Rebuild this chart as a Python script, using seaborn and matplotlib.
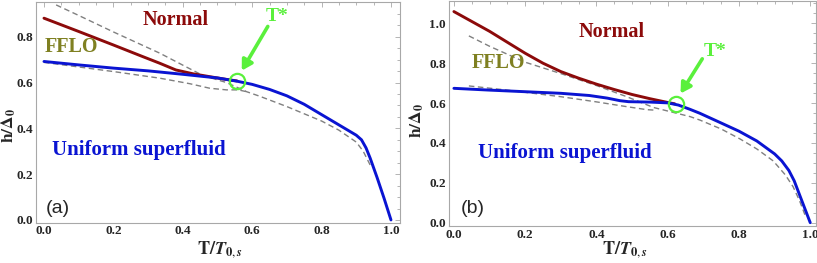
import numpy as np
import matplotlib
matplotlib.use("Agg")
import matplotlib.pyplot as plt
from matplotlib.ticker import MultipleLocator, FormatStrFormatter
import seaborn as sns

# ---------------- data: panel (a) ----------------
a_blue_x = [0.0, 0.1, 0.2, 0.3, 0.4, 0.5, 0.556, 0.6, 0.65, 0.7, 0.75, 0.8, 0.85, 0.9, 0.915, 0.928, 0.94, 0.96, 0.98, 1.0]
a_blue_y = [0.692, 0.677, 0.663, 0.651, 0.636, 0.620, 0.606, 0.592, 0.570, 0.542, 0.505, 0.460, 0.415, 0.370, 0.350, 0.315, 0.270, 0.185, 0.095, 0.0]

a_red_x = [0.0, 0.1, 0.2, 0.28, 0.334, 0.38, 0.43, 0.48, 0.52, 0.556]
a_red_y = [0.881, 0.823, 0.764, 0.716, 0.684, 0.655, 0.638, 0.625, 0.615, 0.607]

a_dash1_x = [0.035, 0.1, 0.2, 0.334, 0.40, 0.459, 0.526, 0.584, 0.622, 0.7, 0.8, 0.85, 0.9, 0.92, 0.94]
a_dash1_y = [0.939, 0.893, 0.821, 0.728, 0.676, 0.630, 0.600, 0.560, 0.540, 0.495, 0.432, 0.392, 0.340, 0.300, 0.240]

a_dash2_x = [0.0, 0.1, 0.2, 0.334, 0.42, 0.478, 0.526, 0.56, 0.584]
a_dash2_y = [0.688, 0.668, 0.648, 0.619, 0.595, 0.575, 0.568, 0.568, 0.560]

# ---------------- data: panel (b) ----------------
b_blue_x = [0.0, 0.1, 0.2, 0.3, 0.38, 0.43, 0.466, 0.49, 0.55, 0.6, 0.63, 0.662, 0.69, 0.75, 0.8, 0.85, 0.9, 0.92, 0.94, 0.955, 0.97, 0.985, 1.0]
b_blue_y = [0.674, 0.665, 0.657, 0.649, 0.638, 0.625, 0.612, 0.607, 0.605, 0.601, 0.590, 0.569, 0.549, 0.500, 0.459, 0.410, 0.345, 0.310, 0.262, 0.210, 0.140, 0.070, 0.0]

b_red_x = [0.0, 0.1, 0.15, 0.2, 0.25, 0.3, 0.35, 0.4, 0.45, 0.5, 0.55, 0.6, 0.62]
b_red_y = [1.059, 0.960, 0.905, 0.850, 0.800, 0.758, 0.725, 0.695, 0.668, 0.643, 0.622, 0.603, 0.596]

b_dash1_x = [0.042, 0.1, 0.2, 0.3, 0.4, 0.485, 0.56, 0.663, 0.69, 0.75, 0.803, 0.85, 0.896, 0.93, 0.952, 0.97, 0.985]
b_dash1_y = [0.937, 0.885, 0.805, 0.748, 0.688, 0.632, 0.578, 0.532, 0.515, 0.470, 0.420, 0.370, 0.310, 0.240, 0.180, 0.110, 0.040]

b_dash2_x = [0.042, 0.15, 0.3, 0.4, 0.485, 0.541, 0.56]
b_dash2_y = [0.686, 0.665, 0.632, 0.606, 0.582, 0.567, 0.565]

# ---------------- style ----------------
sns.set_style("white")
plt.rcParams['font.family'] = ['Liberation Serif', 'DejaVu Serif']
plt.rcParams['mathtext.fontset'] = 'stix'

BLUE = '#0a14d2'
RED = '#8c0a0a'
GRAY = '#808080'
OLIVE = '#7f8021'
GREEN = '#5af03c'
FRAME = '#a8a8a8'

fig = plt.figure(figsize=(8.17, 2.63), dpi=100)
ax1 = fig.add_axes([36/817, 1-222.7/263, 364/817, 221/263])
ax2 = fig.add_axes([448.7/817, 1-226/263, 367.6/817, 225/263])


def draw(ax, bx, by, rx, ry, d1x, d1y, d2x, d2y):
    dash = (0, (4, 2.5))
    sns.lineplot(x=d1x, y=d1y, ax=ax, color=GRAY, lw=1.0, linestyle=dash,
                 estimator=None, sort=False)
    sns.lineplot(x=d2x, y=d2y, ax=ax, color=GRAY, lw=1.0, linestyle=dash,
                 estimator=None, sort=False)
    sns.lineplot(x=rx, y=ry, ax=ax, color=RED, lw=2.1, estimator=None, sort=False)
    sns.lineplot(x=bx, y=by, ax=ax, color=BLUE, lw=2.1, estimator=None, sort=False)


def style(ax, xlim, ylim):
    ax.set_xlim(*xlim)
    ax.set_ylim(*ylim)
    for s in ax.spines.values():
        s.set_color(FRAME)
        s.set_linewidth(0.8)
    ax.xaxis.set_major_locator(MultipleLocator(0.2))
    ax.xaxis.set_minor_locator(MultipleLocator(0.05))
    ax.yaxis.set_major_locator(MultipleLocator(0.2))
    ax.yaxis.set_minor_locator(MultipleLocator(0.05))
    ax.tick_params(which='both', direction='in', top=True, right=True,
                   color=FRAME, width=0.6)
    ax.tick_params(which='major', length=3.5, labelsize=9.5, pad=2)
    ax.tick_params(which='minor', length=2)
    ax.xaxis.set_major_formatter(FormatStrFormatter('%.1f'))
    ax.yaxis.set_major_formatter(FormatStrFormatter('%.1f'))
    for lab in ax.get_xticklabels() + ax.get_yticklabels():
        lab.set_fontweight('bold')
    ax.set_xlabel(r'$\mathbf{T/}\mathbfit{T}_{\mathbf{0},\mathbfit{s}}$', fontsize=13)
    ax.set_ylabel(r'$\mathbf{h/\Delta_0}$', fontsize=12.5)
    ax.grid(False)


draw(ax1, a_blue_x, a_blue_y, a_red_x, a_red_y, a_dash1_x, a_dash1_y, a_dash2_x, a_dash2_y)
style(ax1, (-0.023, 1.026), (-0.012, 0.953))
ax1.xaxis.set_label_coords(0.505, -0.072)
ax1.yaxis.set_label_coords(-0.05, 0.44)

draw(ax2, b_blue_x, b_blue_y, b_red_x, b_red_y, b_dash1_x, b_dash1_y, b_dash2_x, b_dash2_y)
style(ax2, (-0.0146, 1.017), (-0.0166, 1.112))
ax2.xaxis.set_label_coords(0.479, -0.06)
ax2.yaxis.set_label_coords(-0.062, 0.47)

tkw = dict(fontweight='bold', ha='center', va='center')
# panel (a) labels
ax1.text(0.378, 0.875, 'Normal', color=RED, fontsize=14.5, **tkw)
ax1.text(0.08, 0.757, 'FFLO', color=OLIVE, fontsize=14.5, **tkw)
ax1.text(0.272, 0.306, 'Uniform superfluid', color=BLUE, fontsize=15, **tkw)
ax1.text(0.041, 0.051, '(a)', fontsize=14, family='Liberation Sans', ha='center', va='center')
ax1.text(0.672, 0.888, 'T*', color=GREEN, fontsize=14, **tkw)
ax1.annotate('', xy=(0.57, 0.652), xytext=(0.645, 0.845),
             arrowprops=dict(arrowstyle='-|>,head_width=0.35,head_length=0.6',
                             color=GREEN, lw=2.6, shrinkA=0, shrinkB=0))
ax1.plot([0.555], [0.607], marker='o', ms=11, mfc='none', mec=GREEN, mew=1.6)

# panel (b) labels
ax2.text(0.444, 0.955, 'Normal', color=RED, fontsize=14.5, **tkw)
ax2.text(0.124, 0.80, 'FFLO', color=OLIVE, fontsize=14.5, **tkw)
ax2.text(0.311, 0.348, 'Uniform superfluid', color=BLUE, fontsize=15, **tkw)
ax2.text(0.054, 0.069, '(b)', fontsize=14, family='Liberation Sans', ha='center', va='center')
ax2.text(0.733, 0.858, 'T*', color=GREEN, fontsize=14, **tkw)
ax2.annotate('', xy=(0.636, 0.648), xytext=(0.697, 0.822),
             arrowprops=dict(arrowstyle='-|>,head_width=0.35,head_length=0.6',
                             color=GREEN, lw=2.6, shrinkA=0, shrinkB=0))
ax2.plot([0.624], [0.594], marker='o', ms=11, mfc='none', mec=GREEN, mew=1.6)

fig.savefig('out.png', dpi=100)
